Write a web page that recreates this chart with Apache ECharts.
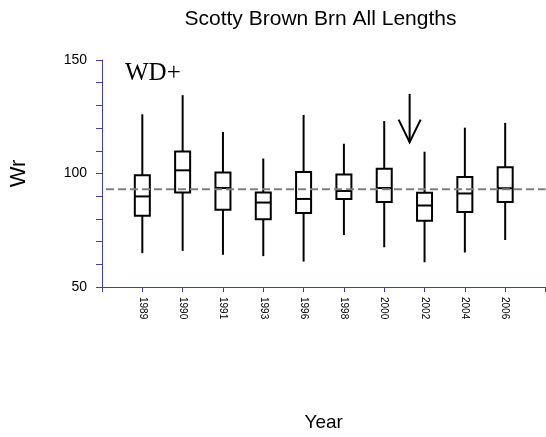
<!DOCTYPE html>
<html>
<head>
<meta charset="utf-8">
<script src="https://cdn.jsdelivr.net/npm/echarts@6/dist/echarts.min.js"></script>
<style>html,body{margin:0;padding:0;background:#fff}#c{width:546px;height:437px}</style>
</head>
<body>
<div id="c"></div>
<script>
const categories = ['1989','1990','1991','1993','1996','1998','2000','2002','2004','2006'];
const whiskerMin = [64.9, 65.9, 64.2, 63.6, 61.2, 72.9, 67.5, 60.9, 65.2, 70.7];
const q1 =         [81.4, 91.6, 84.0, 79.8, 82.6, 88.8, 87.4, 79.2, 83.0, 87.5];
const median =     [89.9, 101.4, 93.6, 87.2, 88.8, 92.3, 93.6, 85.9, 91.2, 93.5];
const q3 =         [99.2, 109.7, 100.4, 91.6, 100.7, 99.6, 102.1, 91.5, 98.5, 102.7];
const whiskerMax = [126.1, 134.5, 118.3, 106.6, 125.8, 113.1, 123.1, 109.6, 120.2, 122.3];
const referenceWr = 93.1;
const yTickLabels = [50, 100, 150];
const arrowX = [7.63];
const arrowTop = [135.1];
const arrowTip = [113.8];

const axisBlue = '#4040a8';
const boxData = categories.map((c, i) => [i + 1, whiskerMin[i], q1[i], median[i], q3[i], whiskerMax[i]]);
const arrowData = arrowX.map((x, i) => [x, arrowTop[i], arrowTip[i]]);

const chart = echarts.init(document.getElementById('c'), null, {renderer: 'canvas'});
chart.setOption({
  animation: false,
  backgroundColor: '#fff',
  title: {
    text: 'Scotty Brown Brn All Lengths',
    left: 320.5, top: 9, padding: 0, textAlign: 'center',
    textStyle: {fontFamily: 'Liberation Sans, Arial, sans-serif', fontSize: 21, fontWeight: 'normal', color: '#000'}
  },
  grid: {left: 100, top: 60, width: 445.5, height: 228.3},
  xAxis: {
    type: 'value', min: 0, max: 11, interval: 1,
    name: 'Year', nameLocation: 'middle', nameGap: 126,
    nameTextStyle: {fontFamily: 'Liberation Sans, Arial, sans-serif', fontSize: 19, color: '#000'},
    axisLine: {lineStyle: {color: axisBlue, width: 1}},
    axisTick: {show: true, length: 5, lineStyle: {color: axisBlue}},
    axisLabel: {
      rotate: -90, margin: 10, fontFamily: 'Liberation Sans, Arial, sans-serif', fontSize: 10, color: '#000',
      formatter: v => categories[v - 1] || ''
    },
    splitLine: {show: false}
  },
  yAxis: {
    type: 'value', min: 50, max: 150, interval: 10,
    name: 'Wr', nameLocation: 'middle', nameGap: 72, nameRotate: 90,
    nameTextStyle: {fontFamily: 'Liberation Sans, Arial, sans-serif', fontSize: 22, color: '#000'},
    axisLine: {show: true, lineStyle: {color: axisBlue, width: 1}},
    axisTick: {show: true, length: 6, lineStyle: {color: axisBlue}},
    axisLabel: {
      margin: 15, fontFamily: 'Liberation Sans, Arial, sans-serif', fontSize: 14, color: '#000',
      formatter: v => yTickLabels.indexOf(v) >= 0 ? String(v) : ''
    },
    splitLine: {show: false}
  },
  graphic: [{
    type: 'text', left: 125, top: 61,
    style: {text: 'WD+', font: '25px "Liberation Serif", "Times New Roman", serif', fill: '#000'}
  }],
  series: [
    {
      type: 'custom',
      data: boxData,
      encode: {x: 0, y: [1, 2, 3, 4, 5]},
      renderItem: function (params, api) {
        const x = api.value(0);
        const pMin = api.coord([x, api.value(1)]);
        const pQ1 = api.coord([x, api.value(2)]);
        const pMed = api.coord([x, api.value(3)]);
        const pQ3 = api.coord([x, api.value(4)]);
        const pMax = api.coord([x, api.value(5)]);
        const hw = 7.5;
        const st = {stroke: '#000', lineWidth: 2, fill: null};
        return {type: 'group', children: [
          {type: 'line', shape: {x1: pMin[0], y1: pMin[1], x2: pMax[0], y2: pMax[1]}, style: st},
          {type: 'rect', shape: {x: pQ3[0] - hw, y: pQ3[1], width: 2 * hw, height: pQ1[1] - pQ3[1]}, style: {stroke: '#000', lineWidth: 2, fill: '#fff'}},
          {type: 'line', shape: {x1: pMed[0] - hw, y1: pMed[1], x2: pMed[0] + hw, y2: pMed[1]}, style: st}
        ]};
      }
    },
    {
      type: 'line',
      data: [[0.1, referenceWr], [11, referenceWr]],
      symbol: 'none', silent: true,
      lineStyle: {color: '#808080', width: 2, type: [8, 4]}
    },
    {
      type: 'custom',
      data: arrowData,
      encode: {x: 0, y: [1, 2]},
      renderItem: function (params, api) {
        const x = api.value(0);
        const top = api.coord([x, api.value(1)]);
        const tip = api.coord([x, api.value(2)]);
        const st = {stroke: '#000', lineWidth: 2, fill: null};
        return {type: 'group', children: [
          {type: 'line', shape: {x1: top[0], y1: top[1], x2: tip[0], y2: tip[1]}, style: st},
          {type: 'polyline', shape: {points: [[tip[0] - 11, tip[1] - 22.5], [tip[0], tip[1]], [tip[0] + 11, tip[1] - 22.5]]}, style: st}
        ]};
      }
    }
  ]
});
</script>
</body>
</html>
